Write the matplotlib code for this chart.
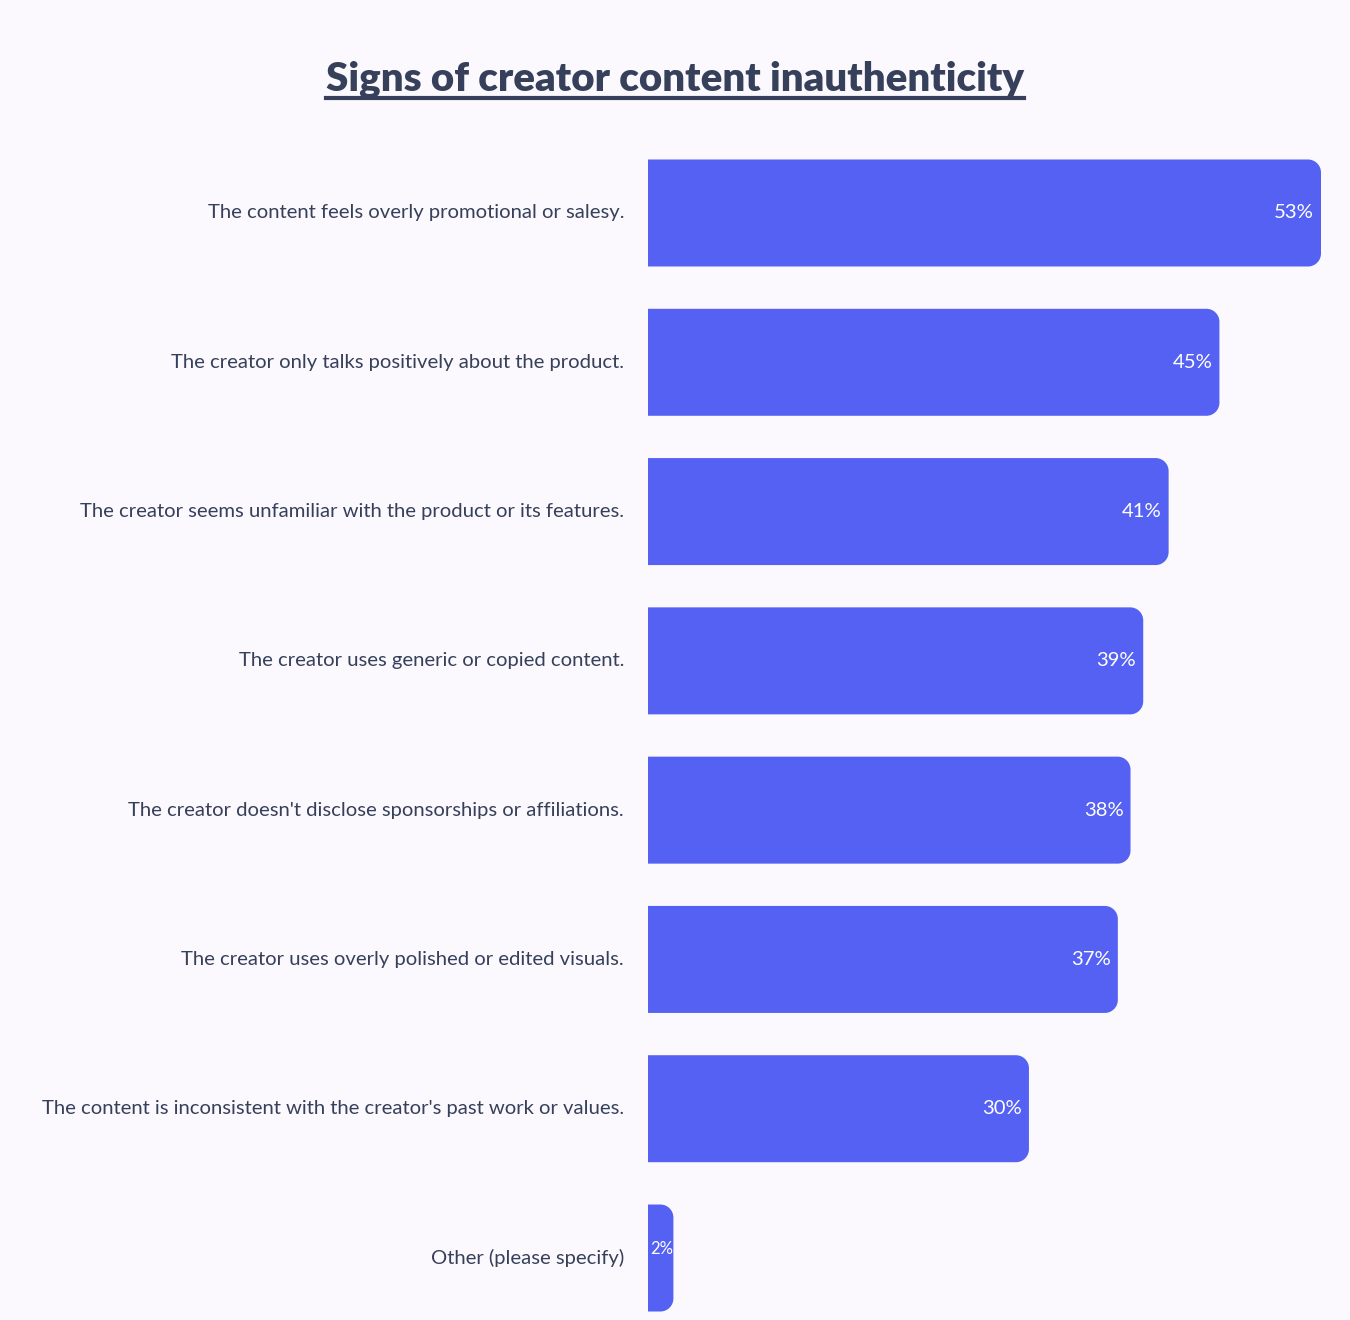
import matplotlib
matplotlib.use('Agg')
import matplotlib.pyplot as plt
from matplotlib.path import Path
from matplotlib.patches import PathPatch
from matplotlib.lines import Line2D

categories = [
    "The content feels overly promotional or salesy.",
    "The creator only talks positively about the product.",
    "The creator seems unfamiliar with the product or its features.",
    "The creator uses generic or copied content.",
    "The creator doesn't disclose sponsorships or affiliations.",
    "The creator uses overly polished or edited visuals.",
    "The content is inconsistent with the creator's past work or values.",
    "Other (please specify)",
]
values = [53, 45, 41, 39, 38, 37, 30, 2]

bg = '#FBF9FE'
bar_color = '#5461F2'
text_color = '#36405A'
plt.rcParams['font.family'] = ['Lato', 'DejaVu Sans']

W, H = 1350, 1320
fig = plt.figure(figsize=(W / 100, H / 100), dpi=100, facecolor=bg)
ax_left, ax_right = 648, 1321
ax_top, ax_bot = 140, 1320
ax = fig.add_axes([ax_left / W, (H - ax_bot) / H, (ax_right - ax_left) / W, (ax_bot - ax_top) / H])
ax.set_facecolor(bg)
for s in ax.spines.values():
    s.set_visible(False)
ax.set_xticks([])
ax.set_yticks([])

xmax = 53
step_px = 149.3
ax.set_xlim(0, xmax)
ax.set_ylim(7 + (ax_bot - 1258) / step_px, -(213 - ax_top) / step_px)

bar_h = 107 / step_px
r_px = 13
px = xmax / (ax_right - ax_left)
rx = r_px * px
ry = r_px / step_px
k = 0.5523


def right_rounded(x0, y0, w, h):
    rxx = min(rx, w)
    x1 = x0 + w
    y1 = y0 + h
    verts = [
        (x0, y0), (x1 - rxx, y0),
        (x1 - rxx + k * rxx, y0), (x1, y0 + ry - k * ry), (x1, y0 + ry),
        (x1, y1 - ry),
        (x1, y1 - ry + k * ry), (x1 - rxx + k * rxx, y1), (x1 - rxx, y1),
        (x0, y1), (x0, y0),
    ]
    codes = [Path.MOVETO, Path.LINETO,
             Path.CURVE4, Path.CURVE4, Path.CURVE4,
             Path.LINETO,
             Path.CURVE4, Path.CURVE4, Path.CURVE4,
             Path.LINETO, Path.CLOSEPOLY]
    return Path(verts, codes)


for i, (cat, v) in enumerate(zip(categories, values)):
    p = right_rounded(0, i - bar_h / 2, v, bar_h)
    ax.add_patch(PathPatch(p, facecolor=bar_color, edgecolor='none'))
    ax.text(-24 * px, i, cat, ha='right', va='center',
            fontsize=14.6, color=text_color, clip_on=False)
    if v >= 5:
        ax.text(v - 7 * px, i, f"{v}%", ha='right', va='center',
                fontsize=14.6, color='white')
    else:
        ax.text(v, i - 0.06, f"{v}%", ha='right', va='center', fontsize=12, color='white')

title = fig.text(0.5, 1 - 79 / H, "Signs of creator content inauthenticity", ha='center', va='center',
                 fontsize=29, fontweight='heavy', color=text_color)

fig.canvas.draw()
bb = title.get_window_extent()
uy = (H - 98) / H
fig.add_artist(Line2D([bb.x0 / W, bb.x1 / W], [uy, uy], transform=fig.transFigure,
                      color=text_color, linewidth=3))

fig.savefig('out.png', dpi=100, facecolor=bg)
